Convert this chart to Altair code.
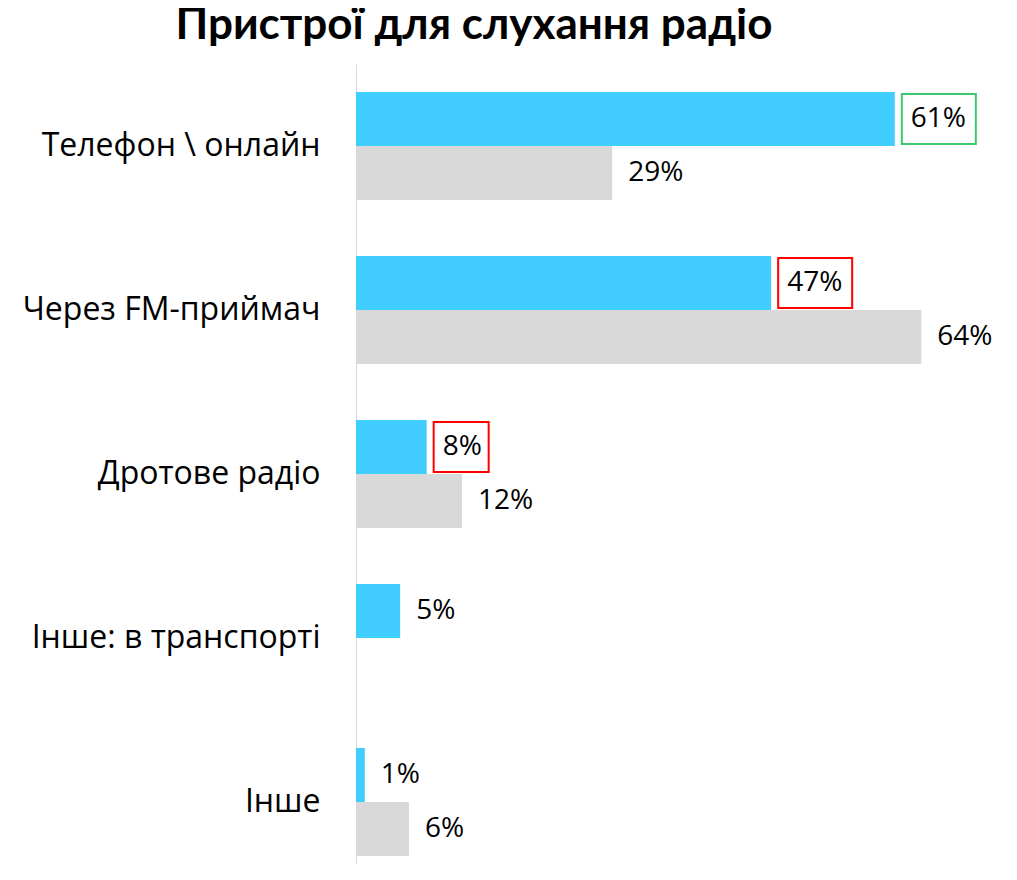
import altair as alt
import pandas as pd

categories = ["Телефон \\ онлайн\u2002", "Через FM-приймач", "Дротове радіо", "Інше: в транспорті", "Інше"]
series_names = ["Серія 1", "Серія 2"]
values_s1 = [61, 47, 8, 5, 1]
values_s2 = [29, 64, 12, None, 6]
highlight_s1 = ["up", "down", "down", None, None]

rows = []
for i, c in enumerate(categories):
    rows.append({"cat": c, "series": series_names[0], "value": values_s1[i],
                 "label": f"{values_s1[i]}%", "hl": highlight_s1[i]})
    if values_s2[i] is not None:
        rows.append({"cat": c, "series": series_names[1], "value": values_s2[i],
                     "label": f"{values_s2[i]}%", "hl": None})
df = pd.DataFrame(rows)

FONT = "Open Sans"

y_enc = alt.Y("cat:N", sort=categories, title=None,
              scale=alt.Scale(paddingInner=0.3415, paddingOuter=0.1707, range=[0, 820]),
              axis=alt.Axis(ticks=False, domain=True, domainColor="#D9D9D9", domainWidth=1,
                            labelFont=FONT, labelFontSize=32, labelColor="#000000",
                            labelPadding=36, labelLimit=400, grid=False))
yoff = alt.YOffset("series:N", sort=series_names, scale=alt.Scale(paddingInner=0, paddingOuter=0))
x_enc = alt.X("value:Q", scale=alt.Scale(domain=[0, 72], nice=False, zero=True), axis=None, title=None)

base = alt.Chart(df)

bars = base.mark_bar(size=54).encode(
    x=x_enc, y=y_enc, yOffset=yoff,
    color=alt.Color("series:N", scale=alt.Scale(domain=series_names, range=["#41CEFF", "#D9D9D9"]), legend=None),
)

texts = base.mark_text(align="left", baseline="middle", dx=16, font=FONT, fontSize=28, color="#000000").encode(
    x=x_enc, y=y_enc, yOffset=yoff, text="label:N"
)

hl_scale = alt.Scale(domain=["up", "down"], range=["#3CC870", "#FF0000"])

box2 = base.transform_filter("datum.hl != null && datum.value >= 10").mark_rect(
    fill="transparent", strokeWidth=2, height=50, xOffset=7, x2Offset=81
).encode(
    x=x_enc, x2="value:Q", y=y_enc, yOffset=yoff,
    stroke=alt.Stroke("hl:N", scale=hl_scale, legend=None),
)
box1 = base.transform_filter("datum.hl != null && datum.value < 10").mark_rect(
    fill="transparent", strokeWidth=2, height=50, xOffset=7, x2Offset=62
).encode(
    x=x_enc, x2="value:Q", y=y_enc, yOffset=yoff,
    stroke=alt.Stroke("hl:N", scale=hl_scale, legend=None),
)

chart = alt.layer(bars, box2, box1, texts).properties(
    width=636, height=800,
    title=alt.TitleParams("Пристрої для слухання радіо", font="Lato", fontSize=44, fontWeight="bold",
                          color="#000000", anchor="middle", dx=-200, dy=42, offset=14, baseline="bottom"),
    autosize=alt.AutoSizeParams(type="none"),
    padding={"left": 348, "top": 56, "right": 16, "bottom": 0},
).configure(background="white", view=alt.ViewConfig(stroke=None))

chart.save("out.html", embed_options={"renderer": "svg", "actions": False})
